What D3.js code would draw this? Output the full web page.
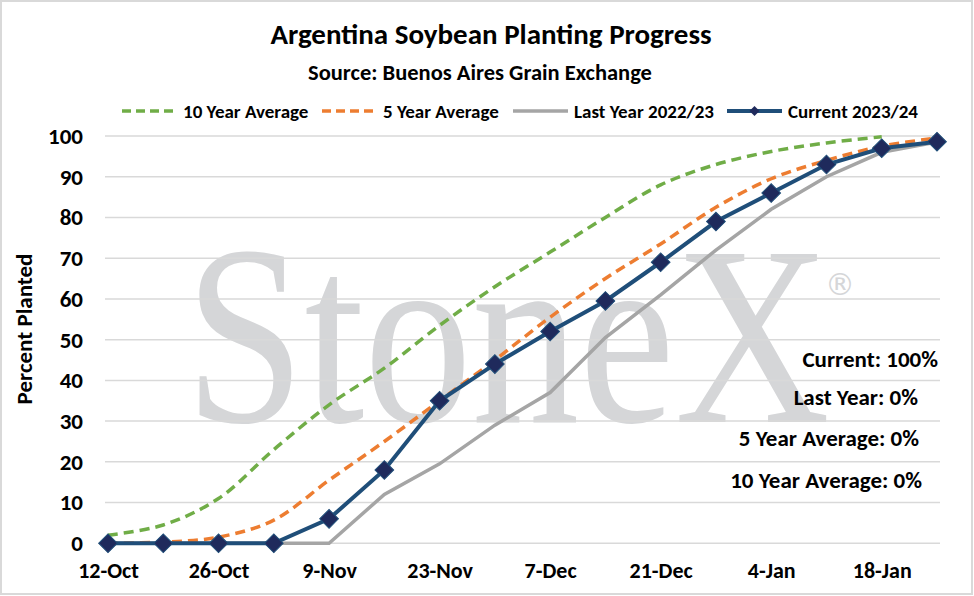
<!DOCTYPE html>
<html>
<head>
<meta charset="utf-8">
<script src="https://cdn.jsdelivr.net/npm/d3@7"></script>
<style>
  body { margin: 0; background: #fff; }
  svg text { font-family: Carlito, Calibri, Lato, sans-serif; font-weight: bold; fill: #000; }
</style>
</head>
<body>
<div id="chart"></div>
<script>
// weekly report dates
var weeks = ["12-Oct", "19-Oct", "26-Oct", "2-Nov", "9-Nov", "16-Nov", "23-Nov", "30-Nov",
             "7-Dec", "14-Dec", "21-Dec", "28-Dec", "4-Jan", "11-Jan", "18-Jan", "25-Jan"];
var tickLabels = ["12-Oct", "26-Oct", "9-Nov", "23-Nov", "7-Dec", "21-Dec", "4-Jan", "18-Jan"];
var yTicks = [0, 10, 20, 30, 40, 50, 60, 70, 80, 90, 100];

// percent planted
var avg10 = [2, 4.5, 11, 23, 34, 43, 53.5, 63, 71.5, 80, 88, 93, 96.2, 98.3, 99.8];
var avg5 = [0, 0.3, 1.5, 5.7, 15.5, 25, 35, 45, 55.5, 65, 73.5, 82.5, 89.5, 94, 97.5, 99.5];
var lastYear = [0, 0, 0, 0, 0, 12, 19.5, 29, 37, 50.5, 61, 72, 82, 90, 96, 98.5];
var current = [0, 0, 0, 0, 6, 18, 35, 44, 52, 59.5, 69, 79, 86, 93, 97, 98.6];

var seriesNames = ["10 Year Average", "5 Year Average", "Last Year 2022/23", "Current 2023/24"];
var notes = ["Current: 100%", "Last Year: 0%", "5 Year Average: 0%", "10 Year Average: 0%"];

var width = 974, height = 596;

var svg = d3.select("#chart").append("svg")
    .attr("width", width)
    .attr("height", height);

// border
svg.append("rect")
    .attr("x", 1).attr("y", 1)
    .attr("width", 971).attr("height", 593)
    .attr("fill", "#fff")
    .attr("stroke", "#d9d9d9")
    .attr("stroke-width", 2);

// scales
var x = d3.scalePoint().domain(weeks).range([108, 937]);
var y = d3.scaleLinear().domain([0, 100]).range([543.3, 136]);
var gridLeft = 105, gridRight = 940;

// watermark
svg.append("text")
    .attr("x", 185).attr("y", 422)
    .attr("textLength", 645)
    .attr("lengthAdjust", "spacingAndGlyphs")
    .style("font-family", "'Liberation Serif', 'DejaVu Serif', serif")
    .style("font-weight", "normal")
    .style("font-size", "256px")
    .style("fill", "#d5d6d8")
    .text("StoneX");
svg.append("text")
    .attr("x", 840).attr("y", 284)
    .attr("text-anchor", "middle")
    .attr("dominant-baseline", "central")
    .style("font-family", "'DejaVu Sans', sans-serif")
    .style("font-weight", "normal")
    .style("font-size", "30px")
    .style("fill", "#d5d6d8")
    .text("\u00AE");

// gridlines
svg.append("g").selectAll("line")
    .data(yTicks)
    .join("line")
    .attr("x1", gridLeft).attr("x2", gridRight)
    .attr("y1", function(d) { return y(d); })
    .attr("y2", function(d) { return y(d); })
    .attr("stroke", "#d9d9d9")
    .attr("stroke-width", 1.5);

// y axis labels
var yAxis = svg.append("g")
    .attr("transform", "translate(83,0)")
    .call(d3.axisLeft(y).tickValues(yTicks).tickSize(0).tickPadding(0));
yAxis.select(".domain").remove();
yAxis.selectAll("text").style("font-size", "23px");

// x axis labels
var xAxis = svg.append("g")
    .attr("transform", "translate(0,562)")
    .call(d3.axisBottom(x).tickValues(tickLabels).tickSize(0).tickPadding(0));
xAxis.select(".domain").remove();
xAxis.selectAll("text").style("font-size", "22px");

// axis title
svg.append("text")
    .attr("transform", "translate(24,329) rotate(-90)")
    .attr("text-anchor", "middle")
    .attr("dominant-baseline", "central")
    .style("font-size", "23px")
    .text("Percent Planted");

// titles
svg.append("text")
    .attr("x", 491).attr("y", 44)
    .attr("text-anchor", "middle")
    .style("font-size", "29px")
    .text("Argentina Soybean Planting Progress");
svg.append("text")
    .attr("x", 480).attr("y", 80)
    .attr("text-anchor", "middle")
    .style("font-size", "22.5px")
    .text("Source: Buenos Aires Grain Exchange");

// lines
var smooth = d3.line()
    .x(function(d, i) { return x(weeks[i]); })
    .y(function(d) { return y(d); })
    .curve(d3.curveCatmullRom.alpha(0.5));
var straight = d3.line()
    .x(function(d, i) { return x(weeks[i]); })
    .y(function(d) { return y(d); });

svg.append("path")
    .datum(lastYear)
    .attr("d", straight)
    .attr("fill", "none")
    .attr("stroke", "#a5a5a5")
    .attr("stroke-width", 3.5);

svg.append("path")
    .datum(avg10)
    .attr("d", smooth)
    .attr("fill", "none")
    .attr("stroke", "#70ad47")
    .attr("stroke-width", 3.5)
    .attr("stroke-dasharray", "10,6");

svg.append("path")
    .datum(avg5)
    .attr("d", smooth)
    .attr("fill", "none")
    .attr("stroke", "#ed7d31")
    .attr("stroke-width", 3.5)
    .attr("stroke-dasharray", "10,6");

svg.append("path")
    .datum(current)
    .attr("d", straight)
    .attr("fill", "none")
    .attr("stroke", "#1f4e79")
    .attr("stroke-width", 4);

var diamond = d3.symbol().type(d3.symbolSquare).size(175);
svg.append("g").selectAll("path")
    .data(current)
    .join("path")
    .attr("d", diamond)
    .attr("transform", function(d, i) {
        return "translate(" + x(weeks[i]) + "," + y(d) + ") rotate(45)";
    })
    .attr("fill", "#1f2a5c")
    .attr("stroke", "#1f4e79")
    .attr("stroke-width", 1);

// legend
var legendItems = [
    { name: seriesNames[0], x: 122, color: "#70ad47", dash: "9,5", w: 3.5, marker: false },
    { name: seriesNames[1], x: 322, color: "#ed7d31", dash: "9,5", w: 3.5, marker: false },
    { name: seriesNames[2], x: 513, color: "#a5a5a5", dash: null, w: 3.5, marker: false },
    { name: seriesNames[3], x: 727, color: "#1f4e79", dash: null, w: 4, marker: true }
];
var legend = svg.append("g").selectAll("g")
    .data(legendItems)
    .join("g")
    .attr("transform", function(d) { return "translate(" + d.x + ",111)"; });
legend.append("line")
    .attr("x1", 0).attr("x2", 55)
    .attr("stroke", function(d) { return d.color; })
    .attr("stroke-width", function(d) { return d.w; })
    .attr("stroke-dasharray", function(d) { return d.dash; });
legend.filter(function(d) { return d.marker; })
    .append("path")
    .attr("d", d3.symbol().type(d3.symbolSquare).size(50))
    .attr("transform", "translate(27.5,0) rotate(45)")
    .attr("fill", "#1f2a5c");
legend.append("text")
    .attr("x", 61)
    .attr("dominant-baseline", "central")
    .style("font-size", "19px")
    .text(function(d) { return d.name; });

// status notes
var notePos = [[938, 359], [918, 397], [919, 438], [922, 480]];
svg.append("g").selectAll("text")
    .data(notes)
    .join("text")
    .attr("x", function(d, i) { return notePos[i][0]; })
    .attr("y", function(d, i) { return notePos[i][1]; })
    .attr("text-anchor", "end")
    .attr("dominant-baseline", "central")
    .style("font-size", "23px")
    .text(function(d) { return d; });
</script>
</body>
</html>
